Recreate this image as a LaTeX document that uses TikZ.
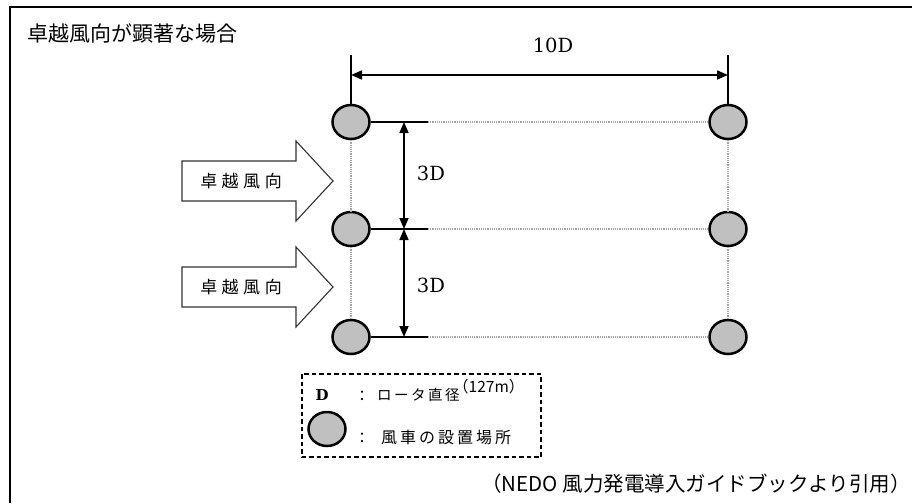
\documentclass[tikz,border=0pt]{standalone}
\usepackage{fontspec}
\setmainfont{DejaVu Serif}
\newfontfamily\jp{Noto Sans CJK JP}
\usetikzlibrary{arrows.meta,shapes.geometric}
\definecolor{turb}{RGB}{192,192,192}
\definecolor{dotc}{RGB}{165,165,165}
\tikzset{
  turbine/.style={ellipse,draw=black,line width=2.5pt,fill=turb,minimum width=37pt,minimum height=34pt,inner sep=0pt},
  grid/.style={draw=dotc,line width=1.1pt,dash pattern=on 1.2pt off 1pt},
  solidline/.style={draw=black,line width=1.4pt},
  dimarrow/.style={line width=1.6pt,{Triangle[length=11pt,width=9pt]}-{Triangle[length=11pt,width=9pt]}},
  blockarrow/.style={draw=black!80,line width=1.1pt,fill=white},
  dimlabel/.style={font=\fontsize{19.5}{22}\selectfont,inner sep=0pt},
  windlabel/.style={font=\jp\fontsize{17}{19}\selectfont,inner sep=0pt},
}
\begin{document}
\begin{tikzpicture}[x=1pt,y=-1pt]
\useasboundingbox (0,0) rectangle (912,503);
% frame
\draw[line width=2.2pt] (10,503) -- (10,7) -- (912,7);
\node[anchor=west,inner sep=0pt,font=\jp\fontsize{21}{23}\selectfont] (title) at (27,33) {卓越風向が顕著な場合};
% turbines
\node[turbine] (a1) at (351,122) {};
\node[turbine] (a2) at (351,229) {};
\node[turbine] (a3) at (351,337) {};
\node[turbine] (b1) at (728,122) {};
\node[turbine] (b2) at (728,229) {};
\node[turbine] (b3) at (728,337) {};
% grid lines
\coordinate (s1) at (428,122);
\coordinate (s2) at (428,229);
\coordinate (s3) at (428,337);
\draw[grid] (s1) -- (b1.west);
\draw[grid] (s2) -- (b2.west);
\draw[grid] (s3) -- (b3.west);
\draw[grid] (a1.south) -- (a2.north);
\draw[grid] (a2.south) -- (a3.north);
\draw[grid] (b1.south) -- (b2.north);
\draw[grid] (b2.south) -- (b3.north);
\draw[solidline] (a1.east) -- (s1);
\draw[solidline] (a2.east) -- (s2);
\draw[solidline] (a3.east) -- (s3);
% 10D dimension
\coordinate (e1) at (351,55);
\coordinate (e2) at (728,55);
\coordinate (d1) at (351,75);
\coordinate (d2) at (728,75);
\draw[line width=1.5pt] (e1) -- (a1.north);
\draw[line width=1.5pt] (e2) -- (b1.north);
\draw[dimarrow] (d1) -- (d2);
\node[dimlabel] (ten) at (553,45) {10D};
% 3D dimensions
\coordinate (v1) at (404,122);
\coordinate (v2) at (404,229);
\coordinate (v3) at (404,337);
\draw[dimarrow] (v1) -- (v2);
\draw[dimarrow] (v2) -- (v3);
\node[dimlabel] (th1) at (431,173) {3D};
\node[dimlabel] (th2) at (431,285) {3D};
% wind arrows
\draw[blockarrow] (182,161) -- (296,161) -- (296,141) -- (333,181) -- (296,221) -- (296,201) -- (182,201) -- cycle;
\node[windlabel] (w1) at (241,181) {卓\kern4.5pt 越\kern4.5pt 風\kern4.5pt 向};
\draw[blockarrow] (182,267) -- (296,267) -- (296,247) -- (333,287) -- (296,327) -- (296,307) -- (182,307) -- cycle;
\node[windlabel] (w2) at (241,287) {卓\kern4.5pt 越\kern4.5pt 風\kern4.5pt 向};
% legend
\draw[line width=1.2pt,dash pattern=on 4.5pt off 3pt] (302,374) rectangle (541,457);
\node[inner sep=0pt,font=\fontsize{15}{17}\selectfont\bfseries] (lD) at (322,395) {D};
\node[inner sep=0pt,font=\jp\fontsize{15}{17}\selectfont] (c1) at (362,396) {：};
\node[anchor=west,inner sep=0pt,font=\jp\fontsize{14.5}{17}\selectfont] (lrot) at (377,395) {ロ\kern2.5pt ー\kern2.5pt タ\kern2.5pt 直\kern2.5pt 径};
\node[anchor=west,inner sep=0pt,font=\jp\fontsize{15.5}{17}\selectfont] (l127) at (453,387) {（127m）};
\node[turbine] (lt) at (327,429) {};
\node[inner sep=0pt,font=\jp\fontsize{15}{17}\selectfont] (c2) at (362,438) {：};
\node[anchor=west,inner sep=0pt,font=\jp\fontsize{16}{18}\selectfont] (lturb) at (381,437) {風\kern3pt 車\kern3pt の\kern3pt 設\kern3pt 置\kern3pt 場\kern3pt 所};
% citation
\node[anchor=east,inner sep=0pt,font=\jp\fontsize{20.5}{23}\selectfont] (cite) at (911,484) {（NEDO 風力発電導入ガイドブックより引用）};
\end{tikzpicture}
\end{document}
